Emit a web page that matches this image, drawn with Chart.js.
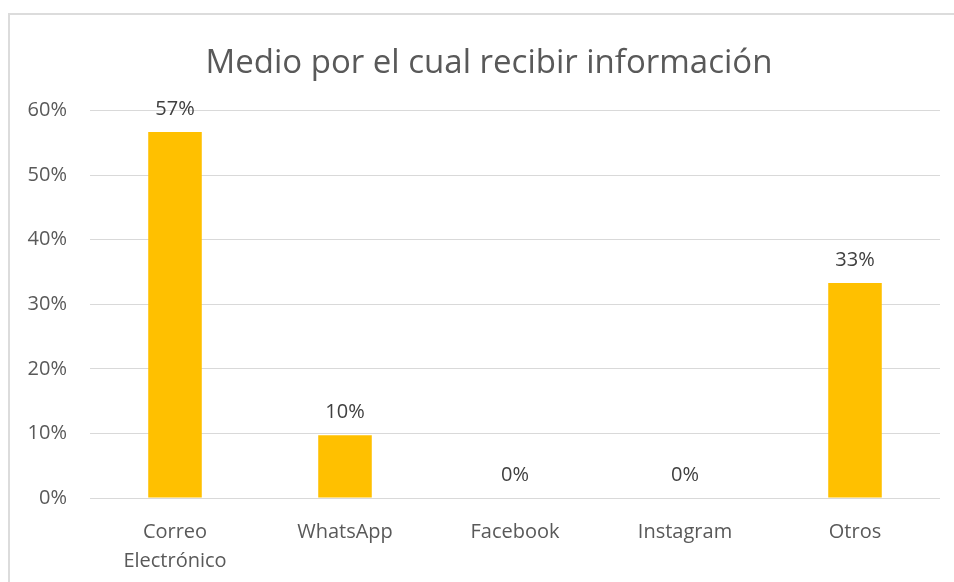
<!DOCTYPE html>
<html>
<head>
<meta charset="utf-8">
<script src="https://cdn.jsdelivr.net/npm/chart.js@4.4.1/dist/chart.umd.min.js"></script>
<style>
  html, body { margin: 0; padding: 0; background: #fff; overflow: hidden; }
  #frame { position: absolute; left: 8px; top: 13px; width: 1000px; height: 1000px; border: 2px solid #dcdcdc; }
  #wrap { position: absolute; left: 0; top: 0; width: 954px; height: 582px; }
</style>
</head>
<body>
<div id="frame"></div>
<div id="wrap"><canvas id="chart"></canvas></div>
<script>
// datos
const categories = [['Correo', 'Electrónico'], 'WhatsApp', 'Facebook', 'Instagram', 'Otros'];
const shares = [0.567, 0.097, 0, 0, 0.333];
const yTicks = [0, 0.1, 0.2, 0.3, 0.4, 0.5, 0.6];

const FONT = '"Open Sans", "Noto Sans", sans-serif';

// etiquetas de valor encima de cada barra
const valueLabels = {
  id: 'valueLabels',
  afterLayout(chart) {
    // el titulo va centrado sobre todo el marco, algo a la derecha
    if (chart.titleBlock) chart.titleBlock.left = 38;
  },
  afterDatasetsDraw(chart) {
    const ctx = chart.ctx;
    const meta = chart.getDatasetMeta(0);
    ctx.save();
    ctx.font = '20px ' + FONT;
    ctx.fillStyle = '#404040';
    ctx.textAlign = 'center';
    ctx.textBaseline = 'middle';
    meta.data.forEach((bar, i) => {
      ctx.fillText(Math.round(shares[i] * 100) + '%', bar.x, bar.y - 23);
    });
    ctx.restore();
  }
};

new Chart(document.getElementById('chart'), {
  type: 'bar',
  data: {
    labels: categories,
    datasets: [{
      data: shares,
      backgroundColor: '#FFC000',
      barPercentage: 0.63,
      categoryPercentage: 0.5
    }]
  },
  options: {
    responsive: true,
    maintainAspectRatio: false,
    animation: false,
    layout: { padding: { left: 0, right: 14, top: 0, bottom: 0 } },
    plugins: {
      legend: { display: false },
      tooltip: { enabled: false },
      title: {
        display: true,
        text: 'Medio por el cual recibir información',
        color: '#595959',
        font: { family: FONT, size: 33, weight: 'normal', lineHeight: 1.2 },
        padding: { top: 44, bottom: 27 }
      }
    },
    scales: {
      x: {
        grid: { display: false },
        border: { display: false },
        ticks: {
          color: '#595959',
          font: { family: FONT, size: 20, lineHeight: 1.45 },
          padding: 12,
          maxRotation: 0,
          autoSkip: false
        },
        afterFit(scale) { scale.height = 84; }
      },
      y: {
        min: 0,
        max: 0.6,
        afterBuildTicks(scale) { scale.ticks = yTicks.map(v => ({ value: v })); },
        grid: { color: '#d9d9d9', lineWidth: 1, drawTicks: false },
        border: { display: false },
        ticks: {
          color: '#595959',
          font: { family: FONT, size: 20 },
          padding: 23,
          callback: v => Math.round(v * 100) + '%'
        },
        afterFit(scale) { scale.width = 90; }
      }
    }
  },
  plugins: [valueLabels]
});
</script>
</body>
</html>
